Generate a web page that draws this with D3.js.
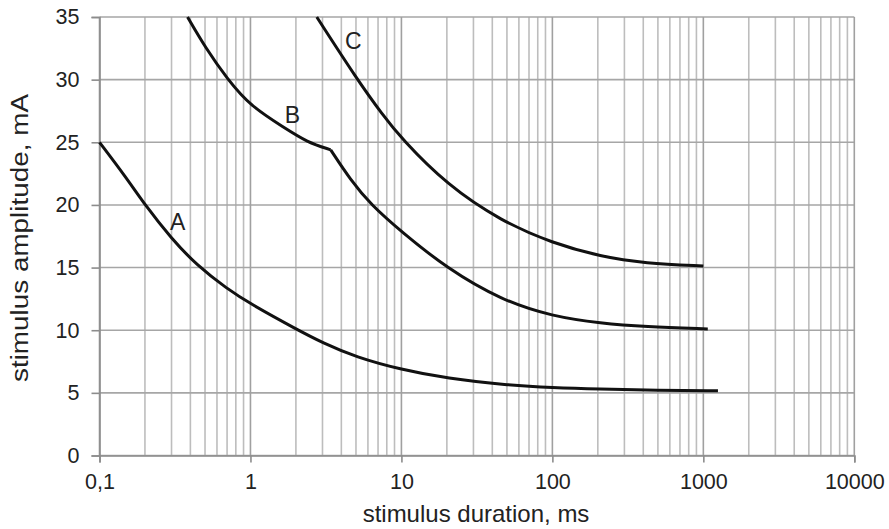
<!DOCTYPE html>
<html><head><meta charset="utf-8">
<script src="https://cdn.jsdelivr.net/npm/d3@7"></script>
<style>body{margin:0;background:#fff}svg{display:block}text{font-family:"Liberation Sans",Arial,sans-serif}</style>
</head><body>
<svg id="c" width="889" height="529"></svg>
<script>
// ---- data ----
const xTicks = [0.1, 1, 10, 100, 1000, 10000];
const xTickLabels = ["0,1", "1", "10", "100", "1000", "10000"];
const yTicks = [0, 5, 10, 15, 20, 25, 30, 35];
const curveA = [[0.1,25],[0.15,22.2],[0.2,20],[0.3,17.3],[0.44,15.2],[0.7,13.3],[1,12.1],[2,10.1],[3,9.0],[5,7.85],[10,6.85],[20,6.15],[50,5.62],[100,5.42],[200,5.3],[500,5.2],[1250,5.17]];
const curveB1 = [[0.383,35],[0.5,32.6],[0.707,30],[1,27.9],[1.66,26.2],[2.38,25.0],[3.4,24.4]];
const curveB2 = [[3.4,24.4],[4.6,22.0],[6.3,20.0],[10,17.86],[20,14.94],[46,12.4],[100,11.1],[210,10.55],[410,10.28],[1070,10.1]];
const curveC = [[2.75,35],[5.1,30],[7.5,27.2],[10,25.3],[20,21.6],[46,18.7],[100,16.95],[210,15.87],[410,15.34],[1000,15.12]];
const curveLabels = [["A",0.33,18.6],["B",1.9,27.2],["C",4.8,33.1]];
const xTitle = "stimulus duration, ms";
const yTitle = "stimulus amplitude, mA";

// ---- drawing ----
const svg = d3.select("#c");
const x = d3.scaleLog().domain([0.1, 10000]).range([99.5, 854.3]);
const y = d3.scaleLinear().domain([0, 35]).range([455.5, 17]);

const minor = [];
for (let d = 0.1; d < 10000; d *= 10) for (let k = 2; k <= 9; k++) minor.push(d * k);
svg.append("g").selectAll("line").data(minor).join("line")
  .attr("x1", d => x(d)).attr("x2", d => x(d))
  .attr("y1", y(0)).attr("y2", y(35))
  .attr("stroke", "#bdbdbd").attr("stroke-width", 1.6);
svg.append("g").selectAll("line").data(yTicks).join("line")
  .attr("x1", x(0.1)).attr("x2", x(10000))
  .attr("y1", d => y(d)).attr("y2", d => y(d))
  .attr("stroke", "#a6a6a6").attr("stroke-width", 1.6);
svg.append("g").selectAll("line").data(xTicks).join("line")
  .attr("x1", d => x(d)).attr("x2", d => x(d))
  .attr("y1", y(0)).attr("y2", y(35))
  .attr("stroke", "#a0a0a0").attr("stroke-width", 1.6);

const xAxis = d3.axisBottom(x).tickValues(xTicks).tickFormat((d, i) => xTickLabels[i]).tickSize(7).tickPadding(11);
const gx = svg.append("g").attr("transform", `translate(0,${y(0)})`).call(xAxis);
gx.select(".domain").attr("stroke", "#8c8c8c").attr("stroke-width", 1.6);
gx.selectAll(".tick line").attr("stroke", "#8c8c8c").attr("stroke-width", 1.6);
gx.selectAll("text").attr("font-size", 21.5).attr("fill", "#222").attr("font-family", "Liberation Sans, Arial, sans-serif");

const yAxis = d3.axisLeft(y).tickValues(yTicks).tickSize(8).tickPadding(12);
const gy = svg.append("g").attr("transform", `translate(${x(0.1)},0)`).call(yAxis);
gy.select(".domain").attr("stroke", "#8c8c8c").attr("stroke-width", 1.6);
gy.selectAll(".tick line").attr("stroke", "#8c8c8c").attr("stroke-width", 1.6);
gy.selectAll("text").attr("font-size", 21.5).attr("fill", "#222").attr("font-family", "Liberation Sans, Arial, sans-serif");

const line = d3.line().x(d => x(d[0])).y(d => y(d[1])).curve(d3.curveBasis);
[curveA, curveB1, curveB2, curveC].forEach(c => {
  svg.append("path").attr("d", line(c)).attr("fill", "none")
    .attr("stroke", "#111").attr("stroke-width", 3).attr("stroke-linejoin", "round");
});

svg.append("g").selectAll("text").data(curveLabels).join("text")
  .attr("x", d => x(d[1])).attr("y", d => y(d[2]))
  .attr("text-anchor", "middle").attr("dominant-baseline", "central")
  .attr("font-size", 23).attr("fill", "#222").text(d => d[0]);

svg.append("text").attr("x", 476).attr("y", 522).attr("text-anchor", "middle")
  .attr("font-size", 24).attr("fill", "#222").text(xTitle);
svg.append("text").attr("transform", "translate(28,238) rotate(-90)").attr("text-anchor", "middle")
  .attr("font-size", 23).attr("textLength", 288).attr("lengthAdjust", "spacingAndGlyphs")
  .attr("fill", "#222").text(yTitle);
</script>
</body></html>
